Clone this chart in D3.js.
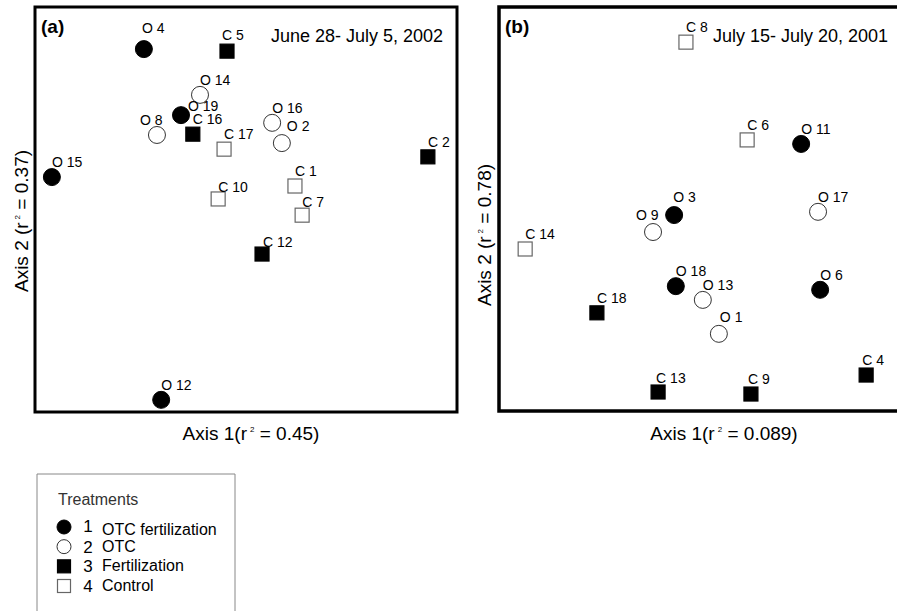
<!DOCTYPE html>
<html>
<head>
<meta charset="utf-8">
<script src="https://cdn.jsdelivr.net/npm/d3@7"></script>
<style>
  body { margin: 0; background: #fff; }
  svg { display: block; font-family: "Liberation Sans", Arial, sans-serif; }
</style>
</head>
<body>
<div id="chart"></div>
<script>
// ordination scores (axis units, 0-100 across each frame)
// treatment: 1 OTC fertilization, 2 OTC, 3 Fertilization, 4 Control

const sitesA = ["O 4", "C 5", "O 14", "O 19", "C 16", "O 8", "C 17", "O 16", "O 2", "C 2", "O 15", "C 1", "C 10", "C 7", "C 12", "O 12"]
const axis1A = [25.8, 45.5, 39.1, 34.6, 37.4, 28.9, 44.8, 56.2, 58.5, 93.1, 4.0, 61.6, 43.4, 63.3, 53.8, 29.9]
const axis2A = [89.6, 89.1, 78.3, 73.3, 68.6, 68.4, 64.9, 71.4, 66.4, 63.0, 58.0, 55.8, 52.6, 48.6, 39.0, 3.0]
const treatA = [1, 3, 2, 1, 3, 2, 4, 2, 2, 3, 1, 4, 4, 4, 3, 1]

const sitesB = ["C 8", "C 6", "O 11", "O 3", "O 17", "O 9", "C 14", "O 18", "O 6", "O 13", "C 18", "O 1", "C 4", "C 13", "C 9"]
const axis1B = [44.3, 58.8, 71.6, 41.5, 75.6, 36.5, 6.2, 41.9, 76.1, 48.3, 23.2, 52.1, 87.0, 37.7, 59.7]
const axis2B = [91.3, 67.1, 66.1, 48.5, 49.3, 44.3, 40.1, 30.9, 30.0, 27.5, 24.3, 19.1, 8.9, 4.7, 4.2]
const treatB = [4, 4, 1, 1, 2, 2, 4, 1, 1, 2, 3, 2, 3, 3, 3]

const treatmentCodes = [1, 2, 3, 4]
const treatmentNames = ["OTC fertilization", "OTC", "Fertilization", "Control"]

// label placement tweaks (px), default is just above-right of the marker
const nudge = {
  "a:O 4": [-2, -16], "a:O 19": [7, -4], "a:O 8": [-17, -10], "a:O 2": [5, -12],
  "a:C 5": [-5, -11], "a:C 12": [1, -7], "a:C 10": [0, -7], "a:C 7": [0, -8],
  "b:O 3": [-1, -13], "b:O 9": [-17, -12], "b:O 1": [1, -12], "b:C 4": [-4, -10],
  "b:C 13": [-2, -9], "b:C 9": [-3, -10]
}

const W = 897, H = 611
const svg = d3.select("#chart").append("svg").attr("width", W).attr("height", H)
svg.append("rect").attr("width", W).attr("height", H).attr("fill", "#fff")

function marker(g, t, x, y, r, side) {
  if (t <= 2) {
    g.append("circle").attr("cx", x).attr("cy", y).attr("r", r)
      .attr("fill", t == 1 ? "#000" : "#fff")
      .attr("stroke", t == 1 ? "#000" : "#333").attr("stroke-width", 1)
  } else {
    g.append("rect").attr("x", x - side / 2).attr("y", y - side / 2)
      .attr("width", side).attr("height", side)
      .attr("fill", t == 3 ? "#000" : "#fff")
      .attr("stroke", t == 3 ? "#000" : "#666").attr("stroke-width", 1.2)
  }
}

function axisTitle(sel, pre, post) {
  sel.append("tspan").text(pre)
  sel.append("tspan").attr("dx", 3).attr("dy", -8).attr("font-size", 8).text("2")
  sel.append("tspan").attr("dy", 8).text(" " + post)
}

function panel(id, box, sites, ax1, ax2, treat, tag, period, xTitle, yTitle, yTitleX, yTitleY) {
  const x = d3.scaleLinear().domain([0, 100]).range([box.x0, box.x1])
  const y = d3.scaleLinear().domain([0, 100]).range([box.y1, box.y0])
  const g = svg.append("g")

  g.append("rect").attr("x", box.x0).attr("y", box.y0)
    .attr("width", box.x1 - box.x0).attr("height", box.y1 - box.y0)
    .attr("fill", "none").attr("stroke", "#000").attr("stroke-width", box.sw)

  g.append("text").attr("x", box.x0 + 6).attr("y", box.y0 + 26)
    .attr("font-size", 19).attr("font-weight", "bold").text(tag)
  g.append("text").attr("x", box.titleX).attr("y", box.y0 + 35)
    .attr("font-size", 18).text(period)

  sites.forEach((s, i) => {
    const cx = x(ax1[i]), cy = y(ax2[i])
    marker(g, treat[i], cx, cy, 8.5, 14)
  })
  sites.forEach((s, i) => {
    const cx = x(ax1[i]), cy = y(ax2[i])
    const n = nudge[id + ":" + s] || [0, -10]
    g.append("text").attr("x", cx + n[0]).attr("y", cy + n[1])
      .attr("font-size", 14).text(s)
  })

  const xt = g.append("text").attr("x", box.xTitleX).attr("y", 440)
    .attr("font-size", 19).attr("text-anchor", "middle")
  axisTitle(xt, xTitle[0], xTitle[1])

  const yt = g.append("text").attr("transform", `translate(${yTitleX},${yTitleY}) rotate(-90)`)
    .attr("font-size", 19).attr("text-anchor", "middle")
  axisTitle(yt, yTitle[0], yTitle[1])
}

panel("a", {x0: 35, x1: 457, y0: 7, y1: 412, sw: 3, titleX: 271, xTitleX: 251},
  sitesA, axis1A, axis2A, treatA, "(a)", "June 28- July 5, 2002",
  ["Axis 1(r", "= 0.45)"], ["Axis 2 (r", "= 0.37)"], 28, 221)

panel("b", {x0: 499, x1: 921, y0: 7, y1: 411, sw: 3.5, titleX: 713, xTitleX: 724},
  sitesB, axis1B, axis2B, treatB, "(b)", "July 15- July 20, 2001",
  ["Axis 1(r", "= 0.089)"], ["Axis 2 (r", "= 0.78)"], 491, 235)

// legend
const lg = svg.append("g")
lg.append("path").attr("d", "M37,611V474H235V611")
  .attr("fill", "none").attr("stroke", "#888").attr("stroke-width", 1)
lg.append("text").attr("x", 58).attr("y", 505).attr("font-size", 16)
  .attr("fill", "#333").text("Treatments")
const rowY = d3.scalePoint().domain(treatmentCodes).range([527, 586])
treatmentCodes.forEach((c, i) => {
  const cy = rowY(c)
  marker(lg, c, 64, cy, 7, 13)
  lg.append("text").attr("x", 88).attr("y", cy + (i == 0 ? 5 : 6)).attr("font-size", 17)
    .attr("text-anchor", "middle").text(c)
  lg.append("text").attr("x", 102).attr("y", cy + (i == 0 ? 8 : 5)).attr("font-size", 16)
    .text(treatmentNames[i])
})
</script>
</body>
</html>
